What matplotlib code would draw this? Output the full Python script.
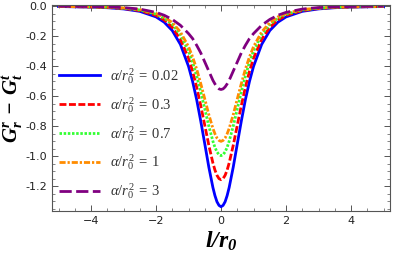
import numpy as np
import matplotlib
matplotlib.use('Agg')
import matplotlib.pyplot as plt
from matplotlib.ticker import MultipleLocator, FormatStrFormatter

plt.rcParams['mathtext.fontset'] = 'custom'
plt.rcParams['mathtext.rm'] = 'Liberation Serif'
plt.rcParams['mathtext.it'] = 'Liberation Serif:italic'
plt.rcParams['mathtext.bf'] = 'Liberation Serif:italic:bold'
plt.rcParams['axes.unicode_minus'] = True

# l/r0 sample points (half, l >= 0), curves are symmetric in l
l_half = [0, 0.0625, 0.125, 0.1875, 0.25, 0.375, 0.5, 0.625, 0.75, 0.875, 1.0,
          1.25, 1.5, 1.75, 2.0, 2.5, 3.0, 3.5, 4.0, 5.0]

# G_r^r - G_t^t for each alpha/r0^2
g_002 = [-1.335, -1.326, -1.302, -1.261, -1.207, -1.072, -0.917, -0.764, -0.622, -0.501, -0.401,
         -0.255, -0.163, -0.107, -0.072, -0.035, -0.019, -0.011, -0.007, -0.003]
g_03 = [-1.155, -1.148, -1.126, -1.091, -1.044, -0.927, -0.793, -0.661, -0.538, -0.433, -0.347,
        -0.221, -0.141, -0.092, -0.062, -0.030, -0.016, -0.009, -0.006, -0.002]
g_07 = [-0.995, -0.989, -0.970, -0.940, -0.899, -0.799, -0.684, -0.569, -0.464, -0.373, -0.299,
        -0.190, -0.121, -0.080, -0.054, -0.026, -0.014, -0.008, -0.005, -0.002]
g_1 = [-0.900, -0.894, -0.878, -0.850, -0.814, -0.723, -0.618, -0.515, -0.419, -0.338, -0.270,
       -0.172, -0.110, -0.072, -0.049, -0.023, -0.013, -0.007, -0.005, -0.002]
g_3 = [-0.555, -0.551, -0.538, -0.518, -0.494, -0.433, -0.372, -0.311, -0.261, -0.216, -0.183,
       -0.128, -0.089, -0.061, -0.042, -0.020, -0.010, -0.006, -0.003, -0.001]

labels = [r'$\alpha/r_0^2\;=\;0.02$', r'$\alpha/r_0^2\;=\;0.3$',
          r'$\alpha/r_0^2\;=\;0.7$', r'$\alpha/r_0^2\;=\;1$',
          r'$\alpha/r_0^2\;=\;3$']
colors = ['#0000ff', '#ff0000', '#33ff33', '#ff8c00', '#800080']
styles = ['-', (0, (2.5, 0.9)), (0, (0.9, 0.6)), (0, (2.2, 0.7, 0.8, 0.7)), (0, (4.4, 1.6))]


def full(half):
    # mirror the l >= 0 readings onto l < 0
    half = np.asarray(half, dtype=float)
    return np.concatenate([half[:0:-1], half])


l = np.concatenate([-np.asarray(l_half[:0:-1]), np.asarray(l_half)])

fig = plt.figure(figsize=(3.94, 2.56), dpi=100)
ax = fig.add_axes([0.132, 0.176, 0.858, 0.805])

for g, lab, c, ls in zip([g_002, g_03, g_07, g_1, g_3], labels, colors, styles):
    ax.plot(l, full(g), color=c, linestyle=ls, lw=2.0, label=lab)

ax.set_xlim(-5.2, 5.2)
ax.set_ylim(-1.363, 0.008)
ax.xaxis.set_major_locator(MultipleLocator(2))
ax.xaxis.set_minor_locator(MultipleLocator(0.5))
ax.yaxis.set_major_locator(MultipleLocator(0.2))
ax.yaxis.set_minor_locator(MultipleLocator(0.05))
ax.yaxis.set_major_formatter(FormatStrFormatter('%.1f'))
ax.tick_params(which='both', direction='in', top=True, right=True,
               color='#555555', labelsize=8, labelcolor='#222222')
ax.tick_params(which='major', length=4, width=0.7)
ax.tick_params(which='minor', length=2, width=0.5)
for sp in ax.spines.values():
    sp.set_color('#555555')
    sp.set_linewidth(0.8)

ax.set_xlabel(r'$\mathbf{l/r_0}$', fontsize=17, labelpad=2)
ax.set_ylabel(r'$\mathbf{G_r^r \;-\; G_t^t}$', fontsize=15, labelpad=0)

leg = ax.legend(loc='center left', bbox_to_anchor=(0.0, 0.375), frameon=False,
                fontsize=10.5, handlelength=2.8, handletextpad=0.7,
                labelspacing=0.62, borderaxespad=0.1)
for t in leg.get_texts():
    t.set_color('#333333')

fig.savefig('out.png', dpi=100)
